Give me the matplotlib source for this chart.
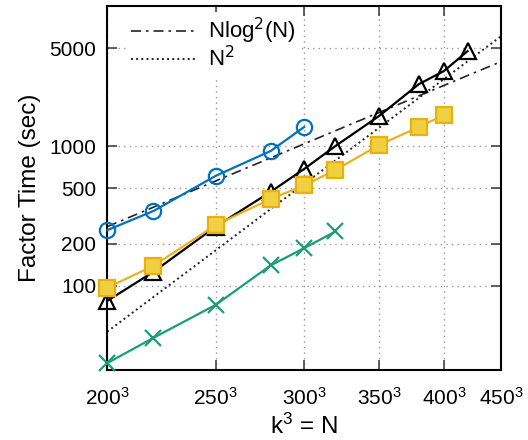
import numpy as np
import matplotlib
matplotlib.use('Agg')
import matplotlib.pyplot as plt
from matplotlib.ticker import FixedLocator, NullLocator, FixedFormatter

plt.rcParams['font.family'] = ['Liberation Sans', 'DejaVu Sans']

# k values (N = k^3) and factor times in seconds
k_blue = [200, 220, 250, 280, 300]
t_blue = [250, 343, 611, 921, 1367]

k_black = [200, 220, 250, 280, 300, 320, 350, 380, 400, 420]
t_black = [78, 126, 265, 470, 685, 1000, 1638, 2773, 3433, 4770]

k_yellow = [200, 220, 250, 280, 300, 320, 350, 380, 400]
t_yellow = [97, 139, 272, 418, 522, 674, 1016, 1367, 1665]

k_green = [200, 220, 250, 280, 300, 320]
t_green = [28, 42.5, 73, 140, 186, 245]

k_ticks = [200, 250, 300, 350, 400, 450]
y_ticks = [100, 200, 500, 1000, 5000]

# reference curves, scaled to their value at k = 200
nlog_at_200 = 265
n2_at_200 = 47


def main():
    fig = plt.figure(figsize=(5.28, 4.4), dpi=100)
    ax = fig.add_axes([0.203, 0.159, 0.746, 0.827])

    n0 = 200.0 ** 3
    n = np.geomspace(n0, 450.0 ** 3, 200)
    nlog = nlog_at_200 * (n * np.log(n) ** 2) / (n0 * np.log(n0) ** 2)
    n2 = n2_at_200 * (n / n0) ** 2

    ax.plot(n, nlog, color='#222222', lw=1.2, label='Nlog$^2$(N)',
            linestyle=(0, (6, 3, 1.5, 3)))
    ax.plot(n, n2, ':', color='#222222', lw=1.4, label='N$^2$')

    def cube(ks):
        return np.array(ks, dtype=float) ** 3

    ax.plot(cube(k_blue), t_blue, '-o', color='#0072BD', lw=1.6, ms=11,
            mfc='none', mew=1.6, clip_on=False, zorder=4)
    ax.plot(cube(k_black), t_black, '-^', color='black', lw=1.6, ms=11,
            mfc='none', mew=1.6, clip_on=False, zorder=4)
    ax.plot(cube(k_yellow), t_yellow, '-s', color='#EDB120', lw=1.6, ms=11,
            mfc='#EFD040', mec='#E8B010', mew=1.6, clip_on=False, zorder=5)
    ax.plot(cube(k_green), t_green, '-x', color='#1A9E77', lw=1.6, ms=11,
            mew=1.6, clip_on=False, zorder=4)

    ax.set_xscale('log')
    ax.set_yscale('log')
    ax.set_xlim(200 ** 3, 450 ** 3)
    ax.set_ylim(25, 10000)

    ax.xaxis.set_major_locator(FixedLocator([k ** 3 for k in k_ticks]))
    ax.xaxis.set_major_formatter(
        FixedFormatter([r'$\mathregular{%d^3}$' % k for k in k_ticks]))
    ax.xaxis.set_minor_locator(NullLocator())
    ax.yaxis.set_major_locator(FixedLocator(y_ticks))
    ax.yaxis.set_major_formatter(FixedFormatter([str(v) for v in y_ticks]))
    ax.yaxis.set_minor_locator(NullLocator())

    ax.tick_params(which='major', direction='in', top=True, right=True,
                   length=7, width=1.2, color='#444444', labelsize=15)
    ax.tick_params(axis='x', pad=12)
    ax.tick_params(axis='y', pad=8)
    ax.grid(True, linestyle=(0, (1, 3)), color='#999999', lw=1.0)
    for sp in ax.spines.values():
        sp.set_linewidth(1.5)

    ax.set_xlabel(r'$\mathregular{k^3}$ = N', fontsize=17.5, labelpad=4)
    ax.set_ylabel('Factor Time (sec)', fontsize=17.5, labelpad=6)

    leg = ax.legend(loc='upper left', bbox_to_anchor=(0.02, 1.015),
                    fontsize=16, handlelength=3.0, labelspacing=0.0,
                    handletextpad=0.5, borderpad=0.2, frameon=True,
                    fancybox=False)
    leg.get_frame().set_facecolor('white')
    leg.get_frame().set_edgecolor('none')
    leg.get_frame().set_alpha(1.0)

    fig.savefig('out.png', dpi=100)


main()
